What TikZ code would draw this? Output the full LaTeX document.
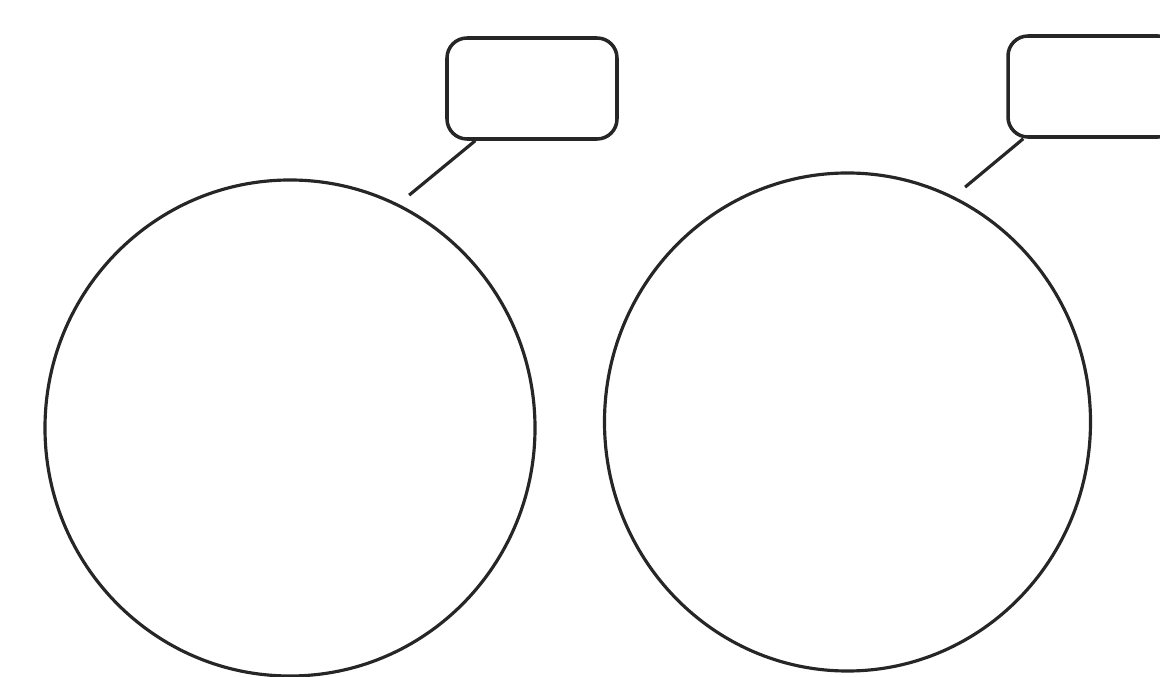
\documentclass[tikz,border=0pt]{standalone}
\usepackage{tikz}
\usetikzlibrary{positioning,calc,shapes.geometric}

\begin{document}
\begin{tikzpicture}[
  x=0.2mm, y=0.2mm,
  dial/.style={ellipse, draw=black!85, line width=1.8pt, inner sep=0pt},
  tag/.style={rectangle, rounded corners=0.4cm, draw=black!85, line width=2pt,
              minimum width=3.4cm, minimum height=2.02cm, inner sep=0pt},
  lead/.style={draw=black!85, line width=1.8pt},
]
  \useasboundingbox (0,0) rectangle (1160,676);

  % Circles
  \node[dial, minimum width=9.8cm, minimum height=9.92cm] (leftdial) at (290,248) {};
  \node[dial, minimum width=9.72cm, minimum height=9.96cm] (rightdial) at (847.5,254) {};

  % Label boxes
  \node[tag] (leftlabel) at (532,587.5) {};
  \node[tag] (rightlabel) at (1093,589.5) {};

  % Leaders
  \coordinate (leftfoot) at ($(leftdial.center)+(62.9:261.6)$);
  \coordinate (rightfoot) at ($(rightdial.center)+(63.4:262.7)$);
  \draw[lead] (leftfoot) -- ($(leftlabel.south west)+(30,0)$);
  \draw[lead] (rightfoot) -- ($(rightlabel.south west)+(17,0)$);
\end{tikzpicture}
\end{document}
